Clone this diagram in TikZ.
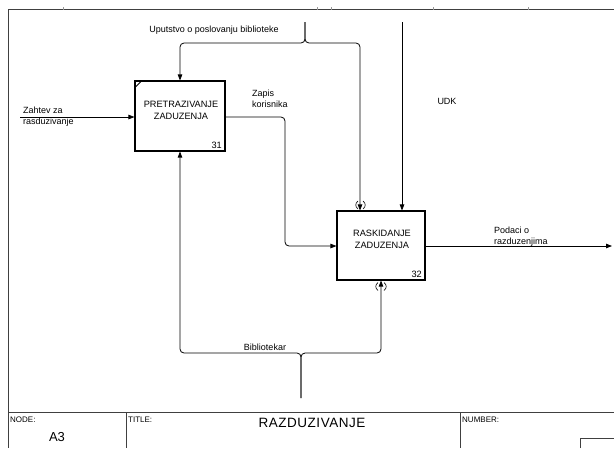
\documentclass[tikz,border=0pt]{standalone}
\usepackage{fontspec}
\setmainfont{Liberation Sans}
\usetikzlibrary{arrows.meta}
\begin{document}
\begin{tikzpicture}[x=1pt,y=-1pt,
  lbl/.style={font=\fontsize{9}{11}\selectfont, inner sep=0pt, align=left},
  boxtxt/.style={font=\fontsize{9.2}{12.5}\selectfont, inner sep=0pt, align=center},
  actbox/.style={draw, line width=1.1pt, minimum width=90pt, minimum height=70pt, inner sep=0pt},
  conn/.style={line width=0.8pt, rounded corners=4pt},
  arr/.style={-{Triangle[length=6pt,width=4.5pt]}},
  frame/.style={line width=0.9pt, draw=black!75},
  tick/.style={line width=0.5pt, draw=black!40}
]
\useasboundingbox (0,0) rectangle (614,448);
% frame
\draw[frame] (614,9.5) -- (8,9.5) -- (8,448);
\draw[frame] (8,412) -- (614,412);
\draw[frame] (126,412) -- (126,448);
\draw[frame] (460,412) -- (460,448);
\draw[frame] (580,448) -- (580,438) -- (614,438);
\foreach \tx in {63,317,331,433,528} \draw[tick] (\tx,7) -- (\tx,9.5);
% title block texts
\node[lbl, anchor=west, font=\fontsize{8}{10}\selectfont] (nodelbl) at (10,420) {NODE:};
\node[lbl, font=\fontsize{13}{15}\selectfont] (nodeval) at (57,437) {A3};
\node[lbl, anchor=west, font=\fontsize{8}{10}\selectfont] (titlelbl) at (128,420) {TITLE:};
\node[lbl, font=\fontsize{13.5}{15}\selectfont] (titleval) at (312,423) {\addfontfeature{LetterSpace=4}RAZDUZIVANJE};
\node[lbl, anchor=west, font=\fontsize{8}{10}\selectfont] (numlbl) at (462,420) {NUMBER:};
% activity boxes
\node[actbox] (b1) at (180,116) {};
\node[boxtxt] (b1t) at (181,110.5) {PRETRAZIVANJE\\ZADUZENJA};
\node[boxtxt, anchor=south east] (b1n) at (222,149) {31};
\draw[line width=0.8pt] (135,87.5) -- (141.5,81);
\node[actbox, minimum width=88pt, minimum height=69pt] (b2) at (381,245.5) {};
\node[boxtxt, font=\fontsize{9.2}{12}\selectfont] (b2t) at (382,239) {RASKIDANJE\\ZADUZENJA};
\node[boxtxt, anchor=south east] (b2n) at (422,278) {32};
% boundary coordinates
\coordinate (inL) at (20,117);
\coordinate (ctrlTop) at (305,22);
\coordinate (udkTop) at (402,22);
\coordinate (outR) at (612,246);
\coordinate (mechBot) at (301,398);
% input
\draw[conn, arr] (inL) -- (b1.west |- inL);
\node[lbl, anchor=west] (inlbl) at (23,116.6) {Zahtev za\\rasduzivanje};
% b1 -> b2
\draw[conn, arr] (b1.east |- 0,117) -- (285,117) -- (285,246) -- (b2.west |- 0,246);
\node[lbl, anchor=west] (zapis) at (252,98.4) {Zapis\\korisnika};
% control
\draw[conn, arr] (ctrlTop) |- (180,43) -- (b1.north -| 180,0);
\draw[conn, arr] (ctrlTop) |- (360,43) -- (b2.north -| 360,0);
\node[lbl] (uput) at (214,30) {Uputstvo o poslovanju biblioteke};
\draw[line width=0.6pt] (358,201) .. controls (355,203.5) and (355,206.5) .. (358,209);
\draw[line width=0.6pt] (363,201) .. controls (366,203.5) and (366,206.5) .. (363,209);
% UDK
\draw[conn, arr] (udkTop) -- (b2.north -| udkTop);
\node[lbl] (udk) at (447,101) {UDK};
% output
\draw[conn, arr] (b2.east |- outR) -- (outR);
\node[lbl, anchor=west] (podaci) at (494,236.6) {Podaci o\\razduzenjima};
% mechanism
\draw[conn, arr] (mechBot) |- (180,353) -- (b1.south -| 180,0);
\draw[conn, arr] (mechBot) |- (381,353) -- (b2.south -| 381,0);
\node[lbl] (bibl) at (265,347) {Bibliotekar};
\draw[line width=0.6pt] (378,282.5) .. controls (375,285) and (375,288) .. (378,290.5);
\draw[line width=0.6pt] (384,282.5) .. controls (387,285) and (387,288) .. (384,290.5);
\end{tikzpicture}
\end{document}
